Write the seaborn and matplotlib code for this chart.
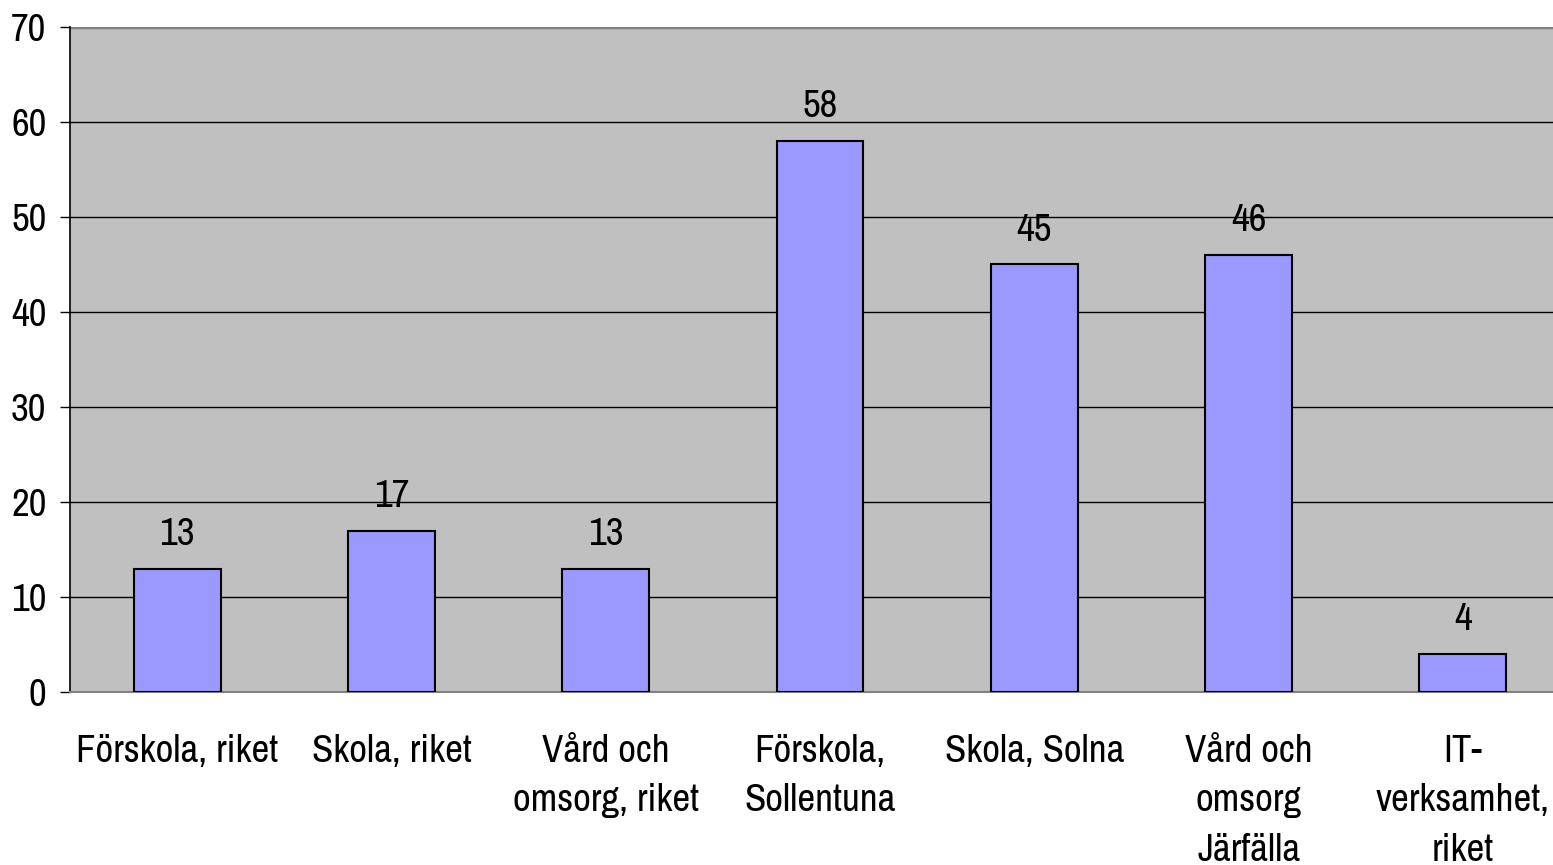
import pandas as pd
import seaborn as sns
import matplotlib.pyplot as plt

sns.set_style("white")
plt.rcParams["font.family"] = ["Archivo Narrow", "Liberation Sans", "DejaVu Sans"]
plt.rcParams["text.color"] = "black"
plt.rcParams["xtick.color"] = "black"
plt.rcParams["ytick.color"] = "black"

CATEGORIES = [
    "Förskola, riket",
    "Skola, riket",
    "Vård och\nomsorg, riket",
    "Förskola,\nSollentuna",
    "Skola, Solna",
    "Vård och\nomsorg\nJärfälla",
    "IT-\nverksamhet,\nriket",
]
VALUES = [13, 17, 13, 58, 45, 46, 4]

df = pd.DataFrame({"kategori": CATEGORIES, "varde": VALUES})

fig = plt.figure(figsize=(15.53, 8.65), dpi=100)
ax = fig.add_axes([70 / 1553, 173 / 865, 1500 / 1553, 665 / 865])
ax.set_facecolor("#C0C0C0")

sns.barplot(data=df, x="kategori", y="varde", color="#9999FF",
            edgecolor="black", linewidth=1.5, width=0.406, saturation=1,
            ax=ax, zorder=3)

ax.set_ylim(0, 70)
ax.set_xlim(-0.5, 6.5)
ax.set_yticks(range(0, 71, 10))
ax.yaxis.grid(True, color="black", linewidth=1.0, zorder=0)
ax.set_axisbelow(True)
ax.set_xlabel("")
ax.set_ylabel("")

for s in ["top", "right"]:
    ax.spines[s].set_visible(False)
ax.spines["left"].set_color("black")
ax.spines["left"].set_linewidth(1.2)
ax.spines["bottom"].set_color("#808080")
ax.spines["bottom"].set_linewidth(1.5)
ax.axhline(70, color="#808080", linewidth=2.5, zorder=1)

ax.tick_params(axis="y", labelsize=28, length=7, width=1, pad=10, left=True)
ax.tick_params(axis="x", labelsize=28, length=0, pad=30)
for lbl in ax.get_xticklabels():
    lbl.set_linespacing(1.52)

ax.bar_label(ax.containers[0], labels=[str(v) for v in VALUES],
             padding=12, fontsize=28)

fig.savefig("out.png", dpi=100)
